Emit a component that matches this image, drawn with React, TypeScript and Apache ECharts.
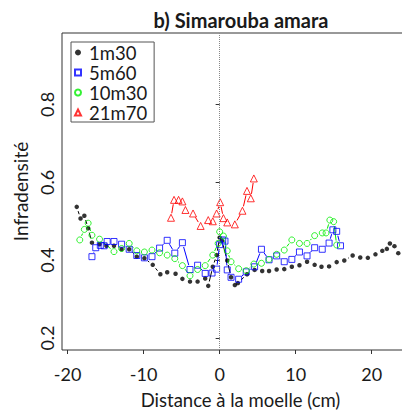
import React, { useEffect, useRef } from "react";
import * as echarts from "echarts";

// 1m30
const x1 = [-18.8,-18.3,-17.8,-17.3,-16.8,-15.8,-14.9,-13.9,-12.9,-11.9,-10.9,-9.9,-8.8,-7.8,-6.9,-5.8,-4.9,-3.9,-2.9,-1.9,-1.5,-0.9,-0.4,0.0,0.3,1.0,1.5,2.0,2.4,3.6,4.6,5.6,6.5,7.5,8.5,9.5,10.5,11.5,12.5,13.4,14.4,15.4,16.4,17.5,18.5,19.5,20.5,21.4,22.0,22.4,23.0,23.5];
const y1 = [0.537,0.507,0.514,0.482,0.445,0.441,0.437,0.437,0.428,0.428,0.409,0.405,0.388,0.364,0.369,0.365,0.352,0.345,0.345,0.353,0.334,0.383,0.413,0.458,0.45,0.399,0.356,0.336,0.341,0.364,0.375,0.372,0.372,0.376,0.377,0.383,0.387,0.396,0.388,0.383,0.384,0.395,0.399,0.412,0.407,0.406,0.415,0.424,0.429,0.443,0.436,0.418];
// 5m60
const x2 = [-16.8,-16.3,-15.7,-15.2,-14.8,-13.9,-12.9,-11.9,-10.9,-9.9,-8.9,-7.9,-6.9,-5.9,-4.9,-3.9,-2.9,-1.9,-1.0,-0.4,0.0,0.4,0.7,1.0,1.5,2.5,3.5,4.6,5.5,6.5,7.5,8.5,9.5,10.5,11.5,12.5,13.5,14.4,14.9,15.4,15.9];
const y2 = [0.409,0.432,0.438,0.437,0.448,0.448,0.441,0.428,0.412,0.406,0.409,0.431,0.451,0.418,0.445,0.376,0.387,0.366,0.367,0.377,0.440,0.452,0.449,0.375,0.356,0.351,0.370,0.383,0.428,0.401,0.411,0.396,0.402,0.421,0.411,0.432,0.428,0.444,0.478,0.474,0.437];
// 10m30
const x3 = [-18.4,-17.8,-17.3,-16.8,-15.8,-13.9,-12.9,-11.9,-10.9,-9.9,-8.9,-7.9,-6.9,-5.9,-4.9,-3.9,-2.9,-1.9,-0.9,-0.2,0.0,0.5,1.0,1.5,2.5,3.5,4.5,5.5,6.5,7.5,8.5,9.5,10.5,11.5,12.5,13.5,14.0,14.5,15.0,15.4];
const y3 = [0.452,0.479,0.495,0.464,0.454,0.422,0.43,0.443,0.424,0.421,0.426,0.419,0.413,0.404,0.386,0.36,0.376,0.386,0.413,0.443,0.473,0.462,0.424,0.396,0.378,0.373,0.39,0.392,0.402,0.415,0.426,0.452,0.443,0.443,0.463,0.47,0.47,0.503,0.499,0.439];
// 21m70
const x4 = [-6.4,-6.0,-5.4,-4.9,-4.5,-3.5,-2.5,-1.5,-0.9,-0.4,0.07,0.5,1.0,2.0,3.0,3.6,4.1,4.5];
const y4 = [0.509,0.555,0.555,0.551,0.529,0.52,0.488,0.503,0.5,0.52,0.549,0.508,0.497,0.492,0.527,0.578,0.559,0.61];

const names = ["1m30", "5m60", "10m30", "21m70"];
const xTicks = [-20, -10, 0, 10, 20];
const yTicks = [0.2, 0.4, 0.6, 0.8];

const FONT = "Lato";
const TXT = "#1a1a1a";

function pts(xs: number[], ys: number[]) {
  return xs.map((x, i) => [x, ys[i]]);
}
function segs(xs: number[], ys: number[]) {
  const d: number[][] = [];
  for (let i = 1; i < xs.length; i++) d.push([xs[i - 1], ys[i - 1], xs[i], ys[i]]);
  return d;
}

function gapLine(name: string, xs: number[], ys: number[], color: string, gap: number) {
  return {
    type: "custom",
    name: name + "-line",
    data: segs(xs, ys),
    encode: { x: [0, 2], y: [1, 3] },
    silent: true,
    z: 1,
    renderItem: (params: any, api: any) => {
      const p0 = api.coord([api.value(0), api.value(1)]);
      const p1 = api.coord([api.value(2), api.value(3)]);
      const dx = p1[0] - p0[0];
      const dy = p1[1] - p0[1];
      const d = Math.sqrt(dx * dx + dy * dy);
      if (d <= 2 * gap) return { type: "group", children: [] };
      const ux = dx / d, uy = dy / d;
      return {
        type: "line",
        shape: {
          x1: p0[0] + ux * gap, y1: p0[1] + uy * gap,
          x2: p1[0] - ux * gap, y2: p1[1] - uy * gap,
        },
        style: { stroke: color, lineWidth: 1 },
      };
    },
  };
}

export default function App() {
  const ref = useRef<HTMLDivElement>(null);
  useEffect(() => {
    if (!ref.current) return;
    const chart = echarts.init(ref.current, undefined, { renderer: "svg" });
    const hollow = (c: string) => ({ color: "transparent", borderColor: c, borderWidth: 1 });
    chart.setOption({
      animation: false,
      backgroundColor: "#fff",
      title: {
        text: "b) Simarouba amara",
        left: 236,
        top: 5,
        textAlign: "center",
        textStyle: { fontFamily: FONT, fontWeight: "bold", fontSize: 20, color: TXT },
      },
      legend: {
        data: names,
        orient: "vertical",
        left: 71,
        top: 42,
        padding: [1, 7, 0, 3],
        itemWidth: 6,
        itemHeight: 6,
        itemGap: 1,
        borderColor: "#555",
        borderWidth: 1,
        borderRadius: 0,
        textStyle: { fontFamily: FONT, fontSize: 18.5, color: TXT, lineHeight: 18, padding: [0, 0, 0, 3] },
      },
      grid: {
        left: 62, top: 33, width: 357, height: 317,
        outerBoundsMode: "none",
        containLabel: false,
        show: true, borderColor: "#333", borderWidth: 1, backgroundColor: "transparent",
      },
      xAxis: {
        type: "value",
        min: -20.74,
        max: 26.23,
        splitLine: { show: false },
        axisLine: { show: false },
        axisTick: { show: true, length: 4, lineStyle: { color: "#333" }, customValues: xTicks },
        axisLabel: { fontFamily: FONT, fontSize: 18, color: TXT, margin: 15, customValues: xTicks },
        name: "Distance à la moelle (cm)",
        nameLocation: "middle",
        nameGap: 40,
        nameTextStyle: { fontFamily: FONT, fontSize: 18.5, color: TXT },
      },
      yAxis: {
        type: "value",
        min: 0.1692,
        max: 0.9837,
        splitLine: { show: false },
        axisLine: { show: false },
        axisTick: { show: true, length: 4, lineStyle: { color: "#333" }, customValues: yTicks },
        axisLabel: { fontFamily: FONT, fontSize: 18, color: TXT, margin: 6, rotate: 90, customValues: yTicks, formatter: (v: number) => v.toFixed(1) },
        name: "Infradensité",
        nameLocation: "middle",
        nameGap: 24,
        nameRotate: 90,
        nameTextStyle: { fontFamily: FONT, fontSize: 19, color: TXT },
      },
      series: [
        gapLine("1m30", x1, y1, "#000", 4.5),
        gapLine("5m60", x2, y2, "#0000ff", 4.5),
        gapLine("10m30", x3, y3, "#00ee00", 4.5),
        gapLine("21m70", x4, y4, "#ff0000", 4.5),
        {
          type: "scatter",
          name: "1m30",
          data: pts(x1, y1),
          symbol: "circle",
          symbolSize: 4.5,
          itemStyle: { color: "#000" },
          z: 3,
          markLine: {
            silent: true,
            symbol: "none",
            label: { show: false },
            lineStyle: { color: "#888", type: "dotted", width: 1 },
            data: [{ xAxis: 0 }],
          },
        },
        { type: "scatter", name: "5m60", data: pts(x2, y2), symbol: "rect", symbolSize: 6, itemStyle: hollow("#0000ff"), z: 3 },
        { type: "scatter", name: "10m30", data: pts(x3, y3), symbol: "circle", symbolSize: 6, itemStyle: hollow("#00ee00"), z: 3 },
        { type: "scatter", name: "21m70", data: pts(x4, y4), symbol: "triangle", symbolSize: 7, itemStyle: hollow("#ff0000"), z: 3 },
      ],
    });
    return () => chart.dispose();
  }, []);
  return <div ref={ref} style={{ width: 402, height: 411, position: "absolute", left: 0, top: 0 }} />;
}
